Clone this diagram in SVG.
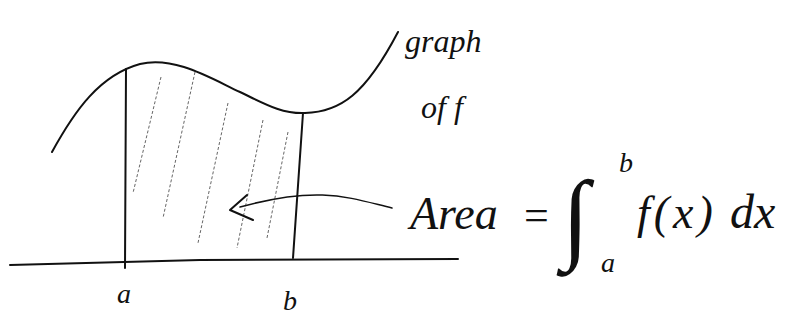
<svg xmlns="http://www.w3.org/2000/svg" width="809" height="328" viewBox="0 0 809 328">
<style>
.ink{fill:none;stroke:#111;stroke-width:2;stroke-linecap:round;stroke-linejoin:round}
.hatch{fill:none;stroke:#666;stroke-width:1;stroke-dasharray:3 2}
.t{font-family:"Liberation Serif","DejaVu Serif",serif;font-style:italic;fill:#111}
.s{font-family:"Liberation Serif","DejaVu Serif",serif;fill:#111}
</style>
<rect width="809" height="328" fill="#fff"/>
<g id="hatching">
<line class="hatch" x1="161" y1="77" x2="133" y2="193"/>
<line class="hatch" x1="195" y1="72" x2="163" y2="218"/>
<line class="hatch" x1="228" y1="103" x2="198" y2="243"/>
<line class="hatch" x1="263" y1="120" x2="237" y2="248"/>
<line class="hatch" x1="288" y1="132" x2="267" y2="238"/>
</g>
<g id="axes">
<path class="ink" d="M10,265 L200,260 L458,259"/>
<path class="ink" d="M126,69 L125,268"/>
<path class="ink" d="M303,113 L293,258"/>
</g>
<g id="curve">
<path class="ink" d="M52,152 C75,110 100,75 140,64 C175,56 210,78 240,92 C265,104 282,114 305,113 C340,112 365,95 398,32"/>
</g>
<g id="arrow">
<path class="ink" style="stroke-width:1.5" d="M392,208 C350,198 320,185 240,207"/>
<path class="ink" style="stroke-width:2" d="M247,195 L230,210 L253,220"/>
</g>
<g id="labels">
<text class="t" x="117" y="303" font-size="28">a</text>
<text class="t" x="283" y="310" font-size="28">b</text>
<text class="t" x="405" y="52" font-size="32">graph</text>
<text class="t" x="421" y="118" font-size="32">of f</text>
<text class="t" x="410" y="229" font-size="46">Area</text>
<text class="s" x="524" y="230" font-size="44">=</text>
<text class="s" x="562" y="250" font-size="100">∫</text>
<text class="t" x="619" y="172" font-size="28">b</text>
<text class="t" x="601" y="272" font-size="28">a</text>
<text class="t" x="637" y="228" font-size="46" letter-spacing="4">f(x)</text>
<text class="t" x="730" y="228" font-size="48">dx</text>
</g>
</svg>
